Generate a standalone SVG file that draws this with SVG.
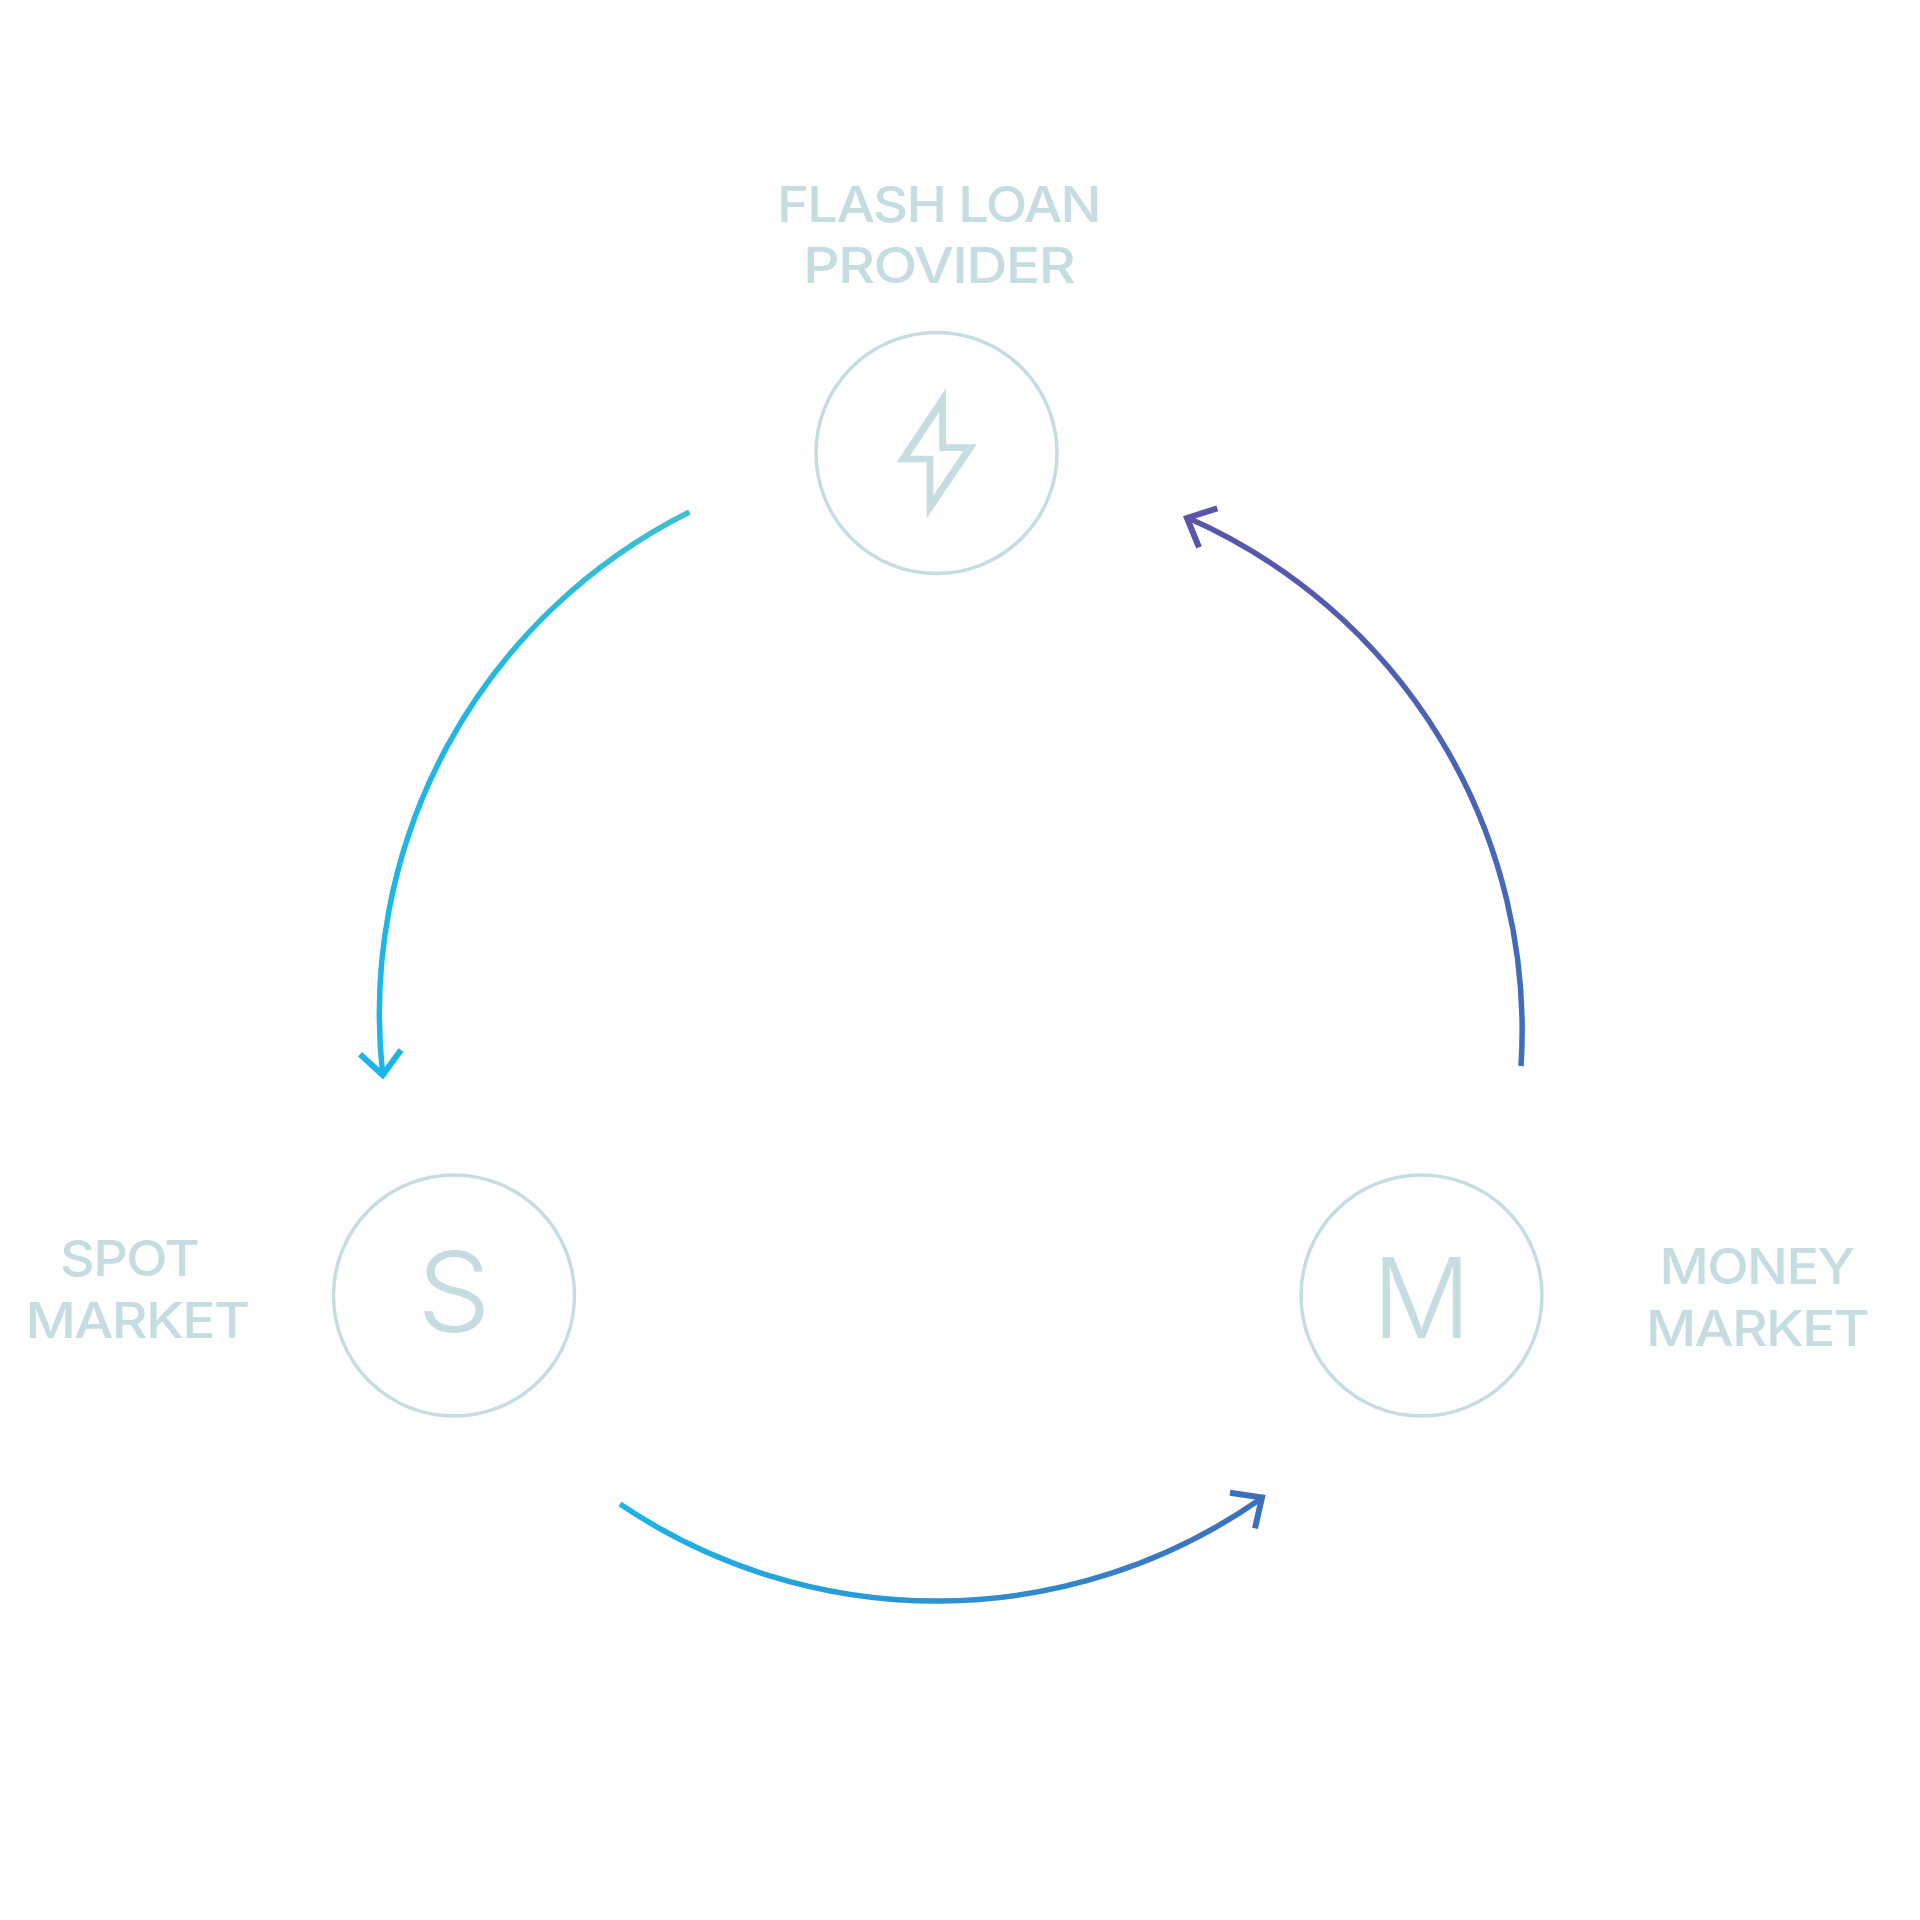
<svg xmlns="http://www.w3.org/2000/svg" width="1920" height="1920" viewBox="0 0 1920 1920">
<style>
.ring{fill:none;stroke:#c5dde1;stroke-width:3.5}
.t{font-family:Inter,"Liberation Sans",sans-serif;font-size:50px;font-weight:500;fill:#c5dde1;letter-spacing:-1.5px}
.g{font-family:Inter,"Liberation Sans",sans-serif;font-size:111px;font-weight:300;fill:#c5dde1}
.c{fill:none;stroke-width:5.5}
.h{fill:none;stroke-width:6}
</style>
<defs>
<linearGradient id="gl" gradientUnits="userSpaceOnUse" x1="690" y1="512" x2="382" y2="1078"><stop offset="0" stop-color="#3ec0cf"/><stop offset=".4" stop-color="#20b7e2"/><stop offset="1" stop-color="#1cb5e8"/></linearGradient>
<linearGradient id="gb" gradientUnits="userSpaceOnUse" x1="620" y1="1550" x2="1263" y2="1550"><stop offset="0" stop-color="#1cb5e6"/><stop offset="1" stop-color="#3d70bc"/></linearGradient>
<linearGradient id="gr" gradientUnits="userSpaceOnUse" x1="1521" y1="1066" x2="1186" y2="517"><stop offset="0" stop-color="#3d70bc"/><stop offset="1" stop-color="#5a55ab"/></linearGradient>
</defs>
<rect width="1920" height="1920" fill="#fff"/>
<g id="connectors">
<g id="spot-to-money"><path class="c" stroke="url(#gb)" d="M620 1504A565 565 0 0 0 1259 1500"/><path class="h" stroke="#3d70bc" d="M1230 1492.7L1262 1497.5L1255 1528.3"/></g>
<g id="money-to-flash"><path class="c" stroke="url(#gr)" d="M1521 1066A560 560 0 0 0 1186 517"/><path class="h" stroke="#5a55ab" d="M1217.3 508.3L1187 518L1199 547.3"/></g>
<g id="flash-to-spot"><path class="c" stroke="url(#gl)" d="M689.4 512A561 561 0 0 0 382.7 1075"/><path class="h" stroke="#1cb5e8" d="M360 1054.3L382.7 1075L401 1050"/></g>
</g>
<g id="flash"><circle class="ring" cx="936.5" cy="453" r="120.5"/>
<path fill="#c5dde1" fill-rule="evenodd" d="M946 388.3V444.3H976.7L926.7 518.3V462.3H896.7ZM939.3 411.7L910 455.7H933.3V495.7L963.3 451H939.3Z"/>
<text class="t" x="777" y="221.7" textLength="323" lengthAdjust="spacingAndGlyphs">FLASH LOAN</text>
<text class="t" x="803" y="283.3" textLength="271" lengthAdjust="spacingAndGlyphs">PROVIDER</text></g>
<g id="spot"><circle class="ring" cx="454" cy="1295.5" r="120.5"/>
<text class="g" x="417" y="1331.5" textLength="74" lengthAdjust="spacingAndGlyphs">S</text>
<text class="t" x="60" y="1276" textLength="138" lengthAdjust="spacingAndGlyphs">SPOT</text>
<text class="t" x="25.5" y="1338" textLength="223" lengthAdjust="spacingAndGlyphs">MARKET</text></g>
<g id="money"><circle class="ring" cx="1421.5" cy="1295.5" r="120.5"/>
<text class="g" x="1372" y="1338.3" textLength="99" lengthAdjust="spacingAndGlyphs">M</text>
<text class="t" x="1659.5" y="1284.3" textLength="194" lengthAdjust="spacingAndGlyphs">MONEY</text>
<text class="t" x="1646" y="1346" textLength="222" lengthAdjust="spacingAndGlyphs">MARKET</text></g>
</svg>
